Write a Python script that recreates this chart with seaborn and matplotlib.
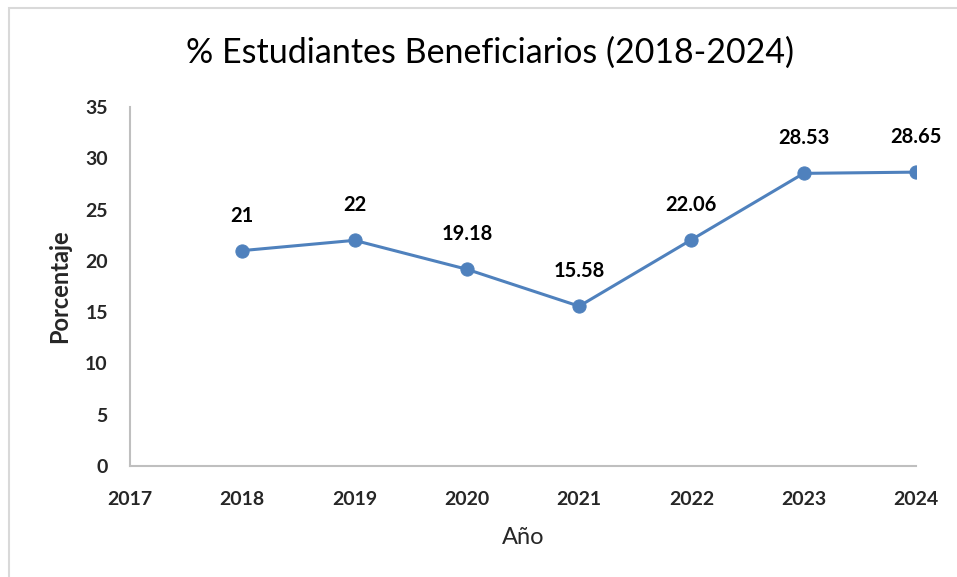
import matplotlib
matplotlib.use("Agg")
import matplotlib.pyplot as plt
import seaborn as sns
import pandas as pd
from matplotlib.patches import Rectangle

years = [2018, 2019, 2020, 2021, 2022, 2023, 2024]
values = [21, 22, 19.18, 15.58, 22.06, 28.53, 28.65]
labels = ["21", "22", "19.18", "15.58", "22.06", "28.53", "28.65"]
x_ticks = [2017, 2018, 2019, 2020, 2021, 2022, 2023, 2024]
y_ticks = [0, 5, 10, 15, 20, 25, 30, 35]

sns.set_theme(style="white")
plt.rcParams['font.family'] = ['Lato', 'DejaVu Sans']

df = pd.DataFrame({"Año": years, "Porcentaje": values})

fig = plt.figure(figsize=(9.57, 5.77), dpi=100)
ax = fig.add_axes([130/957, 1-466/577, (916-130)/957, (466-107)/577])

color = "#4F81BD"
sns.lineplot(data=df, x="Año", y="Porcentaje", ax=ax, color=color, linewidth=2.2,
             marker="o", markersize=9.5, markeredgecolor=color, markerfacecolor=color)

for x, y, t in zip(years, values, labels):
    ax.annotate(t, (x, y), xytext=(0, 18), textcoords="offset points",
                ha="center", va="bottom", fontsize=14.5, fontweight="bold", color="black")

ax.set_xlim(2017, 2024)
ax.set_ylim(0, 35)
ax.set_xticks(x_ticks)
ax.set_yticks(y_ticks)
ax.set_xticklabels([str(v) for v in x_ticks], fontsize=14, fontweight="bold")
ax.set_yticklabels([str(v) for v in y_ticks], fontsize=14, fontweight="bold")
ax.tick_params(axis="both", length=0)
ax.tick_params(axis="x", pad=18)
ax.tick_params(axis="y", pad=16)

for s in ["top", "right"]:
    ax.spines[s].set_visible(False)
for s in ["left", "bottom"]:
    ax.spines[s].set_color("#BFBFBF")
    ax.spines[s].set_linewidth(1.5)

ax.set_xlabel("Año", fontsize=17, labelpad=14)
ax.set_ylabel("Porcentaje", fontsize=17, fontweight="bold", labelpad=10)

fig.text(490/957, 1-53/577, "% Estudiantes Beneficiarios (2018-2024)",
         ha="center", va="center", fontsize=24.5, color="black")

fig.patches.append(Rectangle((9/957, -0.1), 1.2, 1-8/577+0.1, transform=fig.transFigure,
                             fill=False, edgecolor="#D9D9D9", linewidth=1.5))

fig.savefig("out.png", dpi=100)
